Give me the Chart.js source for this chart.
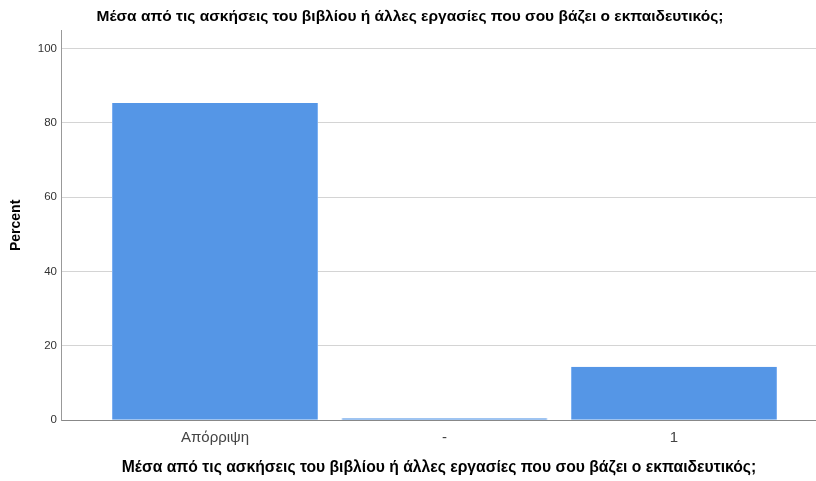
<!DOCTYPE html>
<html lang="el">
  <head>
    <meta charset="UTF-8" />
    <title>Percent</title>
    <script src="https://cdn.jsdelivr.net/npm/chart.js"></script>
    <style>
      body {
        margin: 0;
        background-color: #ffffff;
      }
      #chart {
        display: block;
      }
    </style>
  </head>
  <body>
    <canvas id="chart" width="816" height="481"></canvas>
    <script>
      const categories = ["Απόρριψη", "-", "1"];
      const percentValues = [85.3, 0.5, 14.4];
      const yTicks = [0, 20, 40, 60, 80, 100];

      const titleText =
        "Μέσα από τις ασκήσεις του βιβλίου ή άλλες εργασίες που σου βάζει ο εκπαιδευτικός;";

      const ctx = document.getElementById("chart").getContext("2d");

      new Chart(ctx, {
        type: "bar",
        data: {
          datasets: [
            {
              data: percentValues.map((v, i) => ({ x: i, y: v })),
              backgroundColor: "#5596e6",
              borderColor: "#7aaef0",
              borderWidth: { right: 1, left: 1, top: 0, bottom: 0 },
              barPercentage: 0.898,
              categoryPercentage: 1,
            },
          ],
        },
        options: {
          responsive: false,
          animation: false,
          layout: {
            padding: { left: 4, right: 0, top: 0, bottom: 4 },
          },
          plugins: {
            legend: { display: false },
            tooltip: { enabled: false },
            title: {
              display: true,
              text: titleText,
              color: "#000000",
              font: { family: "Arial, 'Liberation Sans'", size: 15.5, weight: "bold" },
              padding: { top: 7, bottom: 5 },
            },
          },
          scales: {
            x: {
              type: "linear",
              offset: false,
              min: -0.667,
              max: 2.619,
              grid: { display: false, drawTicks: false },
              border: { color: "#888888", width: 1 },
              ticks: {
                stepSize: 1,
                includeBounds: false,
                color: "#444444",
                padding: 9,
                font: { family: "Arial, 'Liberation Sans'", size: 15 },
                callback: (v) => (Number.isInteger(v) ? categories[v] : ""),
              },
              title: {
                display: true,
                text: titleText,
                color: "#000000",
                font: { family: "Arial, 'Liberation Sans'", size: 15.7, weight: "bold" },
                padding: { top: 2, bottom: 0 },
              },
            },
            y: {
              min: 0,
              max: 104.8,
              afterBuildTicks: (axis) => {
                axis.ticks = yTicks.map((v) => ({ value: v }));
              },
              grid: { color: "#d4d4d4", drawTicks: false },
              border: { color: "#999999", width: 1 },
              ticks: {
                color: "#333333",
                padding: 5,
                font: { family: "Arial, 'Liberation Sans'", size: 11.5 },
              },
              title: {
                display: true,
                text: "Percent",
                color: "#000000",
                font: { family: "Arial, 'Liberation Sans'", size: 14, weight: "bold" },
                padding: { top: 4, bottom: 8 },
              },
            },
          },
        },
      });
    </script>
  </body>
</html>
